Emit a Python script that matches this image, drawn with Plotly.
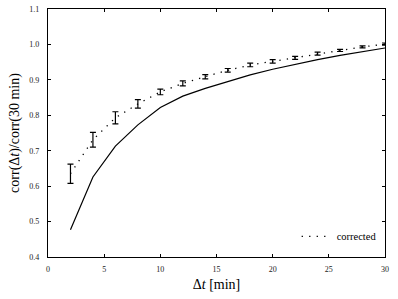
import plotly.graph_objects as go

dt = [2, 4, 6, 8, 10, 12, 14, 16, 18, 20, 22, 24, 26, 28, 30]
corrected = [0.635, 0.731, 0.793, 0.832, 0.866, 0.890, 0.909, 0.927, 0.942, 0.952,
             0.962, 0.974, 0.983, 0.993, 1.001]
corrected_err = [0.027, 0.021, 0.017, 0.012, 0.008, 0.007, 0.006, 0.005, 0.005, 0.005,
                 0.004, 0.004, 0.003, 0.003, 0.003]
raw = [0.477, 0.626, 0.713, 0.773, 0.822, 0.854, 0.876, 0.895, 0.914, 0.930,
       0.944, 0.957, 0.969, 0.980, 0.990]

fig = go.Figure()
fig.add_trace(go.Scatter(
    x=dt, y=raw, mode="lines", showlegend=False,
    line=dict(color="black", width=1.2),
))
fig.add_trace(go.Scatter(
    x=dt, y=corrected, mode="lines", name="corrected",
    line=dict(color="black", width=1.3, dash="1.3px,6.2px"),
    error_y=dict(type="data", array=corrected_err, visible=True,
                 color="black", thickness=1.2, width=3),
))

axis_font = dict(family="Liberation Serif", size=8, color="#222")
fig.update_layout(
    width=398, height=299,
    margin=dict(l=48, r=13, t=9, b=42),
    paper_bgcolor="white", plot_bgcolor="white",
    font=dict(family="Liberation Serif", color="black"),
    showlegend=True,
    hovermode=False,
    legend=dict(x=0.99, xanchor="right", y=0.025, yanchor="bottom",
                bgcolor="rgba(0,0,0,0)", font=dict(family="Liberation Serif", size=10.5),
                itemwidth=30),
    xaxis=dict(
        range=[0, 30], dtick=5, tick0=0, automargin=False,
        showgrid=False, zeroline=False,
        showline=True, linecolor="black", linewidth=1.3, mirror="ticks",
        ticks="inside", ticklen=3, tickcolor="black",
        tickfont=axis_font, ticklabelstandoff=4,
        title=dict(text="Δ<i>t</i> [min]", font=dict(family="Liberation Serif", size=14),
                   standoff=6),
    ),
    yaxis=dict(
        range=[0.4, 1.1], dtick=0.1, tick0=0.4, tickformat=".1f", automargin=False,
        showgrid=False, zeroline=False,
        showline=True, linecolor="black", linewidth=1.3, mirror="ticks",
        ticks="inside", ticklen=3, tickcolor="black",
        tickfont=axis_font, ticklabelstandoff=6,
        title=dict(text="corr(Δ<i>t</i>)/corr(30 min)",
                   font=dict(family="Liberation Serif", size=14), standoff=6),
    ),
)

fig.write_html(
    "out.html",
    config={"displayModeBar": False},
    post_script="document.body.style.margin='0';document.body.style.overflow='hidden';",
)
